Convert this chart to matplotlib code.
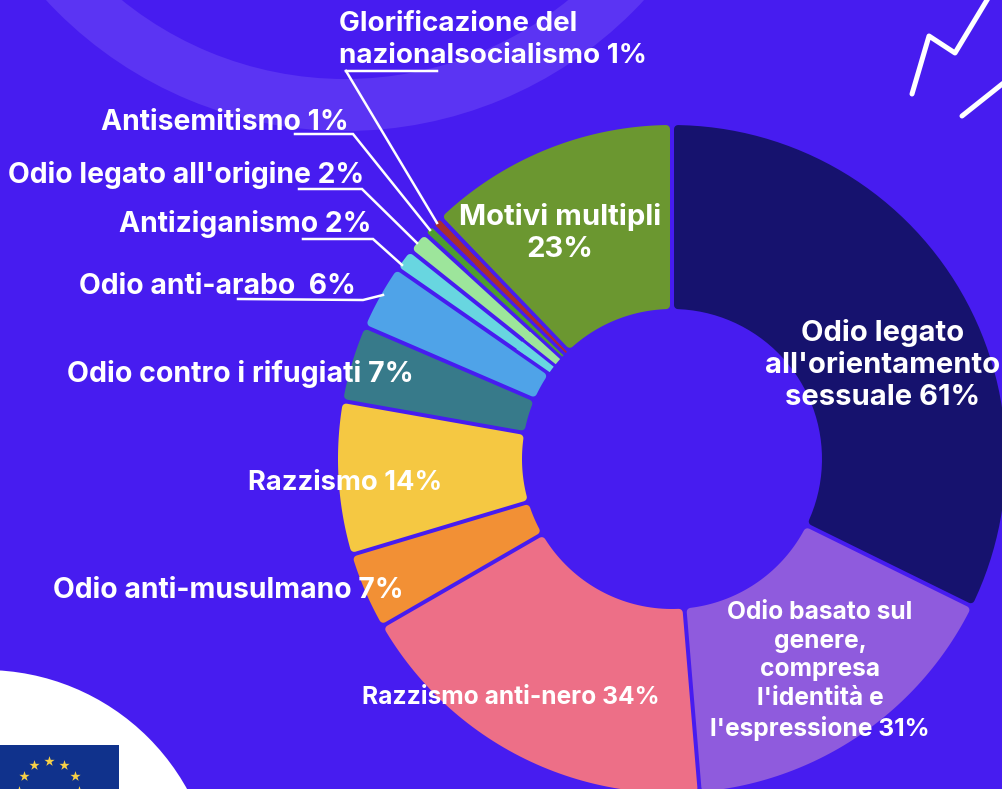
import numpy as np
import matplotlib
matplotlib.use('Agg')
import matplotlib.pyplot as plt
from matplotlib.patches import Circle, Polygon, Rectangle, Wedge

# slices, clockwise from 12 o'clock
values = [61, 31, 34, 7, 14, 7, 6, 2, 2, 1, 1, 23]
colors = ['#16126E', '#8F5BDD', '#ED6F87', '#F29035', '#F5C842', '#377A8A',
          '#4FA3E8', '#68D6E0', '#9DE59B', '#4E9E2E', '#A92F2F', '#6B9730']
labels = ["Odio legato\nall'orientamento\nsessuale 61%",
          "Odio basato sul\ngenere,\ncompresa\nl'identità e\nl'espressione 31%",
          "Razzismo anti-nero 34%", "Odio anti-musulmano 7%", "Razzismo 14%",
          "Odio contro i rifugiati 7%", "Odio anti-arabo  6%", "Antiziganismo 2%",
          "Odio legato all'origine 2%", "Antisemitismo 1%",
          "Glorificazione del\nnazionalsocialismo 1%", "Motivi multipli\n23%"]
label_x = [883, 820, 511, 228, 345, 240, 217, 245, 186, 225, 339, 560]
label_y = [365, 671, 698, 590, 483, 374, 286, 224, 175, 122, 40, 233]
label_size = [21, 17.7, 17.7, 20.4, 19.7, 20.6, 20.4, 20.4, 20.4, 20.4, 20, 21]
label_spacing = [1.22, 1.3, 1.2, 1.2, 1.2, 1.2, 1.2, 1.2, 1.2, 1.2, 1.34, 1.22]

bg = '#471CF0'
W, H = 1002, 789
cx, cy = 672, 459
r_out, r_in = 334, 150
gap = 4
corner = 4
px = 0.72  # 1 px in points at dpi 100


def Y(y):
    return H - np.asarray(y)


def ring_outline(t1, t2, d, r0, r1):
    # band between r0 and r1, sides pushed in by d pixels from the radial edges
    half = np.radians(t2 - t1) / 2
    a1, a2 = np.radians(t1), np.radians(t2)
    off1 = min(np.arcsin(d / r1), half)
    off0 = min(np.arcsin(d / r0), half)
    pts = []
    for a in np.linspace(a1 + off1, a2 - off1, 60):
        pts.append((cx + r1 * np.cos(a), H - cy + r1 * np.sin(a)))
    for a in np.linspace(a2 - off0, a1 + off0, 40):
        pts.append((cx + r0 * np.cos(a), H - cy + r0 * np.sin(a)))
    return pts


fig = plt.figure(figsize=(W / 100, H / 100), dpi=100, facecolor=bg)
ax = fig.add_axes([0, 0, 1, 1])

# decoration behind the chart
ax.add_patch(Wedge((345, Y(-276)), 407, 0, 360, width=52, color='#5B34F3', lw=0, zorder=0))
ax.add_patch(Circle((-15, Y(901)), 231, color='white', lw=0, zorder=0))
ax.add_patch(Rectangle((0, 0), 119, Y(745), color='#10328C', lw=0, zorder=1))
star_a = np.radians(np.arange(0, 360, 30))
ax.scatter(49.5 + 30 * np.sin(star_a), Y(790.5 - 30 * np.cos(star_a)), marker='*',
           s=60, color='#F7D046', lw=0, zorder=2)
for xs, ys in [([912, 929, 955, 990], [94, 36, 53, -5]), ([962, 1006], [116, 81])]:
    ax.plot(xs, Y(ys), color='white', lw=5 * px, solid_capstyle='round',
            solid_joinstyle='round', zorder=1)

wedges, _ = ax.pie(values, colors=colors, startangle=90, counterclock=False,
                   center=(cx, H - cy), radius=r_out, frame=True)
for w, c in zip(wedges, colors):
    t1, t2 = w.theta1, w.theta2
    w.remove()
    half = np.radians(t2 - t1) / 2
    # thin slices get a smaller corner so the body still fits
    rc = min(corner, 0.8 * r_out * np.sin(half) - gap / 2)
    d = gap / 2 + rc
    r0 = max(r_in + rc, d / np.sin(half))
    # rounded body, stroked with round joins for the soft corners
    ax.add_patch(Polygon(ring_outline(t1, t2, d, r0, r_out - rc), closed=True,
                         facecolor=c, edgecolor=c, lw=2 * rc * px,
                         joinstyle='round', zorder=3))
    if r0 > r_in + rc:
        # thin slices: the tapered tip towards the hole
        ax.add_patch(Polygon(ring_outline(t1, t2, gap / 2 - 0.4, r_in, r0 + 10), closed=True,
                             facecolor=c, edgecolor='none', lw=0, zorder=3))

# leader lines
leaders = [([346, 437], [71, 71]), ([346, 437], [71, 223]),
           ([295, 353, 430], [134, 134, 230]),
           ([299, 362, 417], [189, 189, 243]),
           ([303, 373, 402], [239, 239, 265]),
           ([238, 363, 383], [299, 300, 295])]
for xs, ys in leaders:
    ax.plot(xs, Y(ys), color='white', lw=2.5 * px, solid_joinstyle='miter', zorder=4)

for i, lab in enumerate(labels):
    left = lab.startswith('Glorif')
    ax.text(label_x[i], Y(label_y[i]), lab, color='white', family=['Inter', 'DejaVu Sans'],
            weight='bold', fontsize=label_size[i], ha='left' if left else 'center',
            va='center', multialignment='left' if left else 'center',
            linespacing=label_spacing[i], zorder=5)

ax.set_xlim(0, W)
ax.set_ylim(0, H)
ax.set_aspect('auto')
ax.axis('off')
fig.savefig('out.png', dpi=100, facecolor=bg)
